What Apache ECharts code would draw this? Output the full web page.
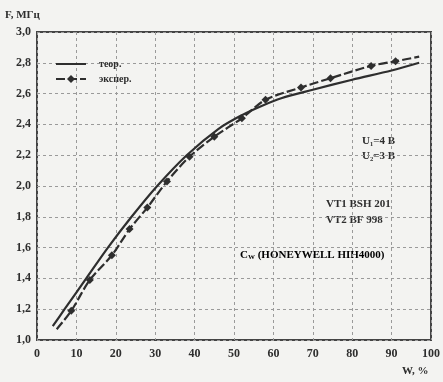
<!DOCTYPE html>
<html>
<head>
<meta charset="utf-8">
<script src="https://cdn.jsdelivr.net/npm/echarts@6/dist/echarts.min.js"></script>
<style>
html,body{margin:0;padding:0;background:#f3f3f1;}
#c{width:443px;height:382px;}
</style>
</head>
<body>
<div id="c"></div>
<script>
// Data
var xTicks = [0, 10, 20, 30, 40, 50, 60, 70, 80, 90, 100];
var yTicks = ['1,0', '1,2', '1,4', '1,6', '1,8', '2,0', '2,2', '2,4', '2,6', '2,8', '3,0'];
var theoryW = [4, 7, 12.5, 18, 24, 30.5, 38, 46, 52, 57, 62, 70, 80, 90, 97];
var theoryF = [1.09, 1.20, 1.40, 1.60, 1.80, 2.00, 2.20, 2.37, 2.46, 2.52, 2.57, 2.625, 2.69, 2.75, 2.80];
var expW = [5, 8.7, 13.4, 19, 23.5, 28, 33, 38.7, 45, 52, 58, 67, 74.5, 84.8, 91, 97];
var expF = [1.07, 1.19, 1.39, 1.55, 1.72, 1.86, 2.03, 2.19, 2.32, 2.44, 2.56, 2.64, 2.70, 2.78, 2.81, 2.84];
var seriesNames = ['теор.', 'экспер.'];

var theoryData = theoryW.map(function (w, i) { return [w, theoryF[i]]; });
var expData = expW.map(function (w, i) {
  var item = { value: [w, expF[i]] };
  if (i === 0 || i === expW.length - 1) item.symbol = 'none';
  return item;
});

var font = 'Liberation Serif';
var ink = '#2e2e2e';
var chart = echarts.init(document.getElementById('c'));
chart.setOption({
  backgroundColor: '#f3f3f1',
  animation: false,
  grid: { left: 37, right: 9, top: 32, bottom: 42, show: true, borderColor: '#444', borderWidth: 2, backgroundColor: 'transparent' },
  legend: {
    orient: 'vertical', left: 50, top: 54, itemWidth: 30, itemHeight: 10, itemGap: 5,
    textStyle: { fontFamily: font, fontWeight: 'bold', fontSize: 10, color: ink, padding: [0, 0, 0, 8] },
    data: [
      { name: seriesNames[0], itemStyle: { opacity: 0 } },
      { name: seriesNames[1] }
    ]
  },
  xAxis: {
    type: 'value', min: 0, max: 100, interval: 10,
    axisLine: { show: false }, axisTick: { show: false },
    axisLabel: { margin: 8, fontFamily: font, fontWeight: 'bold', fontSize: 12, color: ink,
      formatter: function (v) { return xTicks.indexOf(v) >= 0 ? String(v) : ''; } },
    splitLine: { show: true, lineStyle: { type: [3, 3], color: '#9a9a9a', width: 1 } }
  },
  yAxis: {
    type: 'value', min: 1, max: 3, interval: 0.2,
    axisLine: { show: false }, axisTick: { show: false },
    axisLabel: { margin: 6, fontFamily: font, fontWeight: 'bold', fontSize: 12, color: ink,
      formatter: function (v) { return yTicks[Math.round((v - 1) / 0.2)]; } },
    splitLine: { show: true, lineStyle: { type: [3, 3], color: '#9a9a9a', width: 1 } }
  },
  graphic: [
    { type: 'text', left: 5, top: 10, style: { text: 'F, МГц', font: 'bold 11px "Liberation Serif"', fill: ink } },
    { type: 'text', left: 402, top: 366, style: { text: 'W, %', font: 'bold 11px "Liberation Serif"', fill: ink } },
    { type: 'text', left: 362, top: 136, style: { text: 'U₁=4 В', font: 'bold 11px "Liberation Serif"', fill: ink } },
    { type: 'text', left: 362, top: 151, style: { text: 'U₂=3 В', font: 'bold 11px "Liberation Serif"', fill: ink } },
    { type: 'text', left: 326, top: 199, style: { text: 'VT1 BSH 201', font: 'bold 11px "Liberation Serif"', fill: ink } },
    { type: 'text', left: 326, top: 215, style: { text: 'VT2 BF 998', font: 'bold 11px "Liberation Serif"', fill: ink } },
    { type: 'text', left: 240, top: 250, style: {
        text: '{a|C}{s|W}{a| (HONEYWELL HIH4000)}',
        rich: {
          a: { fontFamily: font, fontWeight: 'bold', fontSize: 11, color: ink },
          s: { fontFamily: font, fontWeight: 'bold', fontSize: 7, color: ink, verticalAlign: 'bottom', padding: [4, 0, 0, 0] }
        } } }
  ],
  series: [
    {
      name: seriesNames[0], type: 'line', data: theoryData, smooth: 0.3,
      symbol: 'none', lineStyle: { color: ink, width: 2.2 }, itemStyle: { color: ink }
    },
    {
      name: seriesNames[1], type: 'line', data: expData, smooth: 0.3,
      symbol: 'diamond', symbolSize: 8, showSymbol: true,
      lineStyle: { color: ink, width: 2.2, type: [9, 3] }, itemStyle: { color: ink }
    }
  ]
});
</script>
</body>
</html>
